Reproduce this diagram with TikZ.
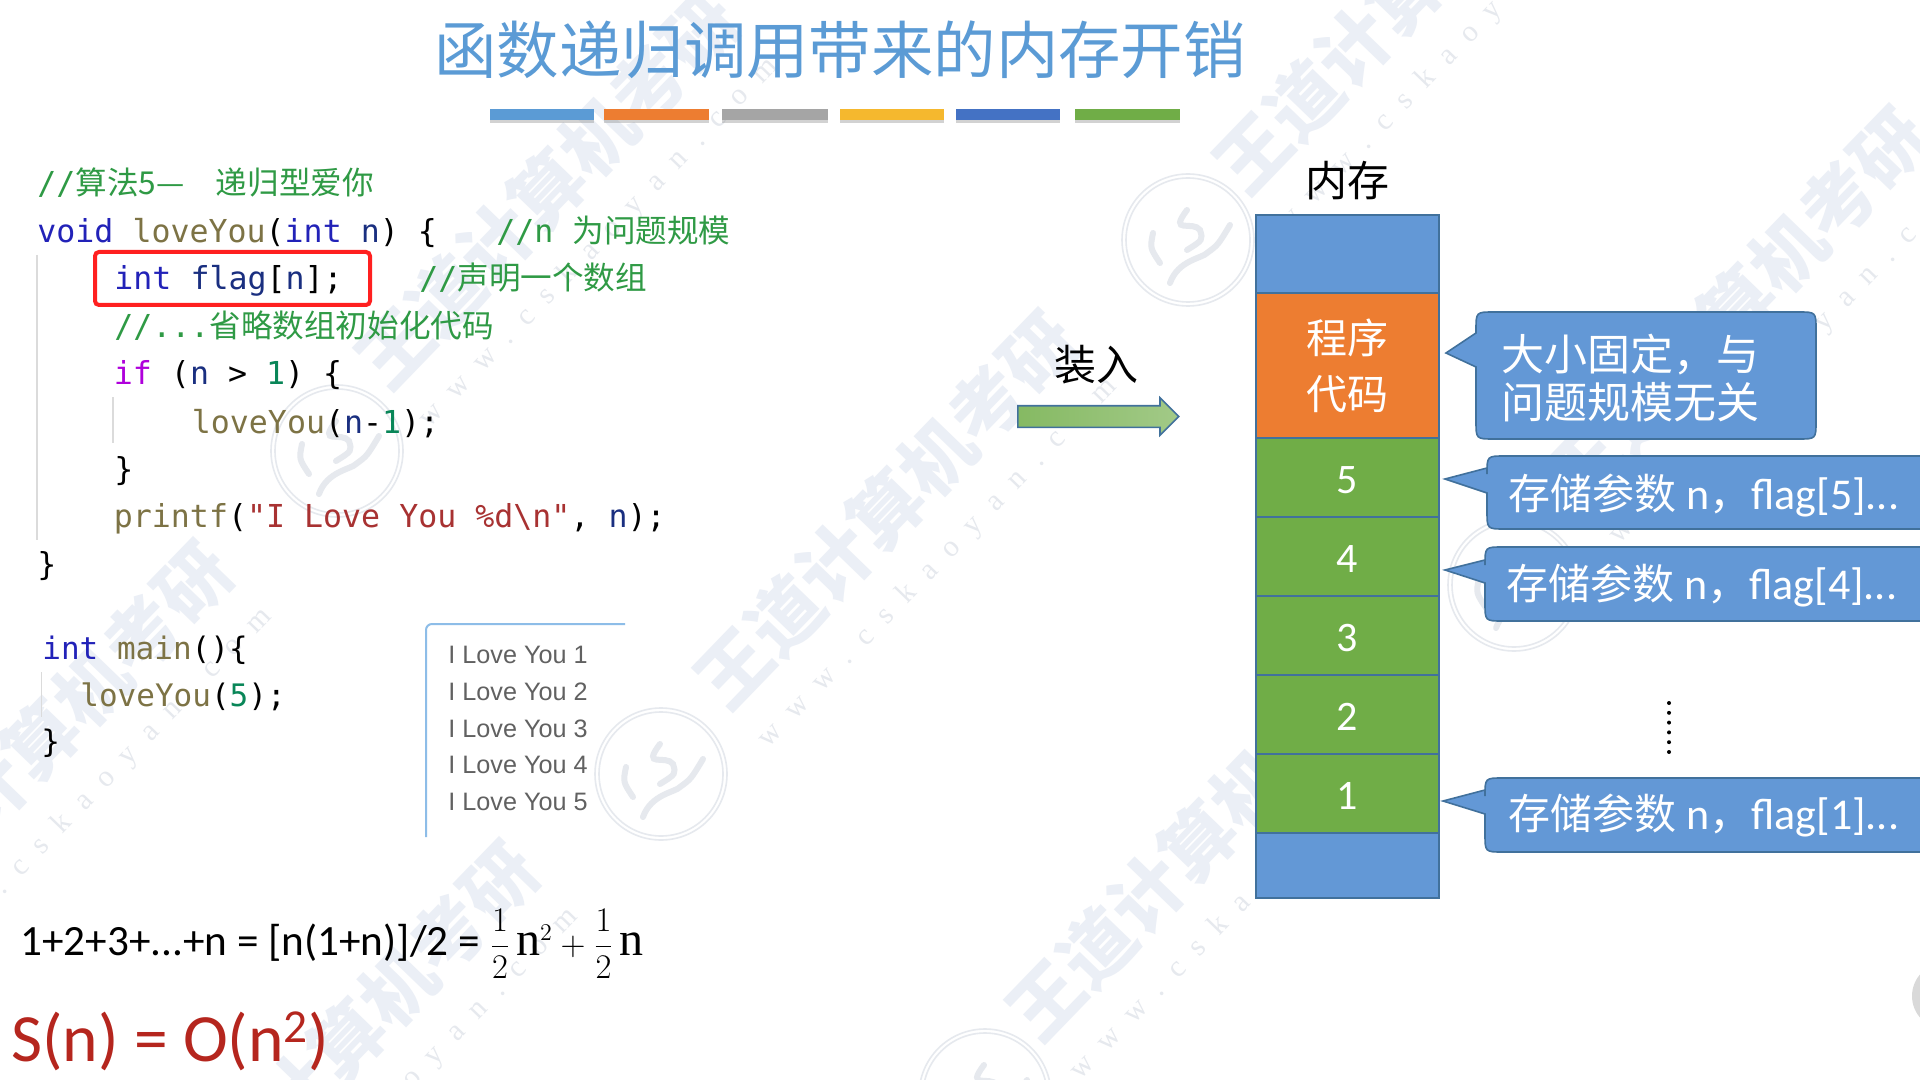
\documentclass[tikz,border=0pt]{standalone}
\usepackage{fontspec}
\setmainfont{Carlito}
\setsansfont{Liberation Sans}
\setmonofont{DejaVu Sans Mono}
\newfontfamily\cjk{Noto Sans CJK SC}
\newfontfamily\serifn{Liberation Serif}
\newfontfamily\urlfont[LetterSpace=58]{Liberation Serif}
\usetikzlibrary{calc,positioning,shapes.arrows,shadows}

\definecolor{titleblue}{HTML}{5B9BD5}
\definecolor{memblue}{HTML}{6398D6}
\definecolor{memorange}{HTML}{ED7D31}
\definecolor{memgreen}{HTML}{70AD47}
\definecolor{memedge}{HTML}{41719C}
\definecolor{bargray}{HTML}{A5A5A5}
\definecolor{baryellow}{HTML}{F5B82E}
\definecolor{bardark}{HTML}{4472C4}
\definecolor{kwblue}{HTML}{2222B8}
\definecolor{fnolive}{HTML}{7D7345}
\definecolor{cmtgreen}{HTML}{2F9A45}
\definecolor{ifpurple}{HTML}{AF00DB}
\definecolor{numteal}{HTML}{098658}
\definecolor{varblue}{HTML}{1A2F80}
\definecolor{strred}{HTML}{A83232}
\definecolor{marknavy}{HTML}{EBEFF6}
\definecolor{markgray}{HTML}{E6E9EE}
\definecolor{sumred}{HTML}{B5261E}
\definecolor{boxred}{HTML}{FF2020}
\definecolor{outblue}{HTML}{8DBDE8}

\newcommand{\kw}[1]{\textcolor{kwblue}{#1}}
\newcommand{\fn}[1]{\textcolor{fnolive}{#1}}
\newcommand{\cm}[1]{\textcolor{cmtgreen}{#1}}
\newcommand{\va}[1]{\textcolor{varblue}{#1}}
\newcommand{\nm}[1]{\textcolor{numteal}{#1}}
\newcommand{\st}[1]{\textcolor{strred}{#1}}
\newcommand{\argtext}[1]{{\fontsize{21}{24}\selectfont\cjk 存储参数} n{\fontsize{21}{24}\selectfont\cjk ，}flag[#1]...}
\newcommand{\bign}{\mbox{\fontsize{24}{25}\selectfont\serifn n}}

% body: left, right, top, bottom; pointer: tip x, tip y, upper y, lower y
\newcommand{\bubble}[8]{
  \draw [bubblefill] (#1,#8) -- (#1,{#4-18}) .. controls (#1,#4) .. ({#1+18},#4) -- ({#2-18},#4)
    .. controls (#2,#4) .. (#2,{#4-18}) -- (#2,{#3+18}) .. controls (#2,#3) .. ({#2-18},#3)
    -- ({#1+18},#3) .. controls (#1,#3) .. (#1,{#3+18}) -- (#1,#7) -- (#5,#6) -- cycle;
}

\tikzset{
  code/.style={anchor=base west, inner sep=0pt, font=\fontsize{15.8}{18}\selectfont\ttfamily},
  maincode/.style={code, font=\fontsize{15.5}{18}\selectfont\ttfamily},
  cell/.style={draw=memedge, line width=1.2pt, minimum width=91.5pt, inner sep=0pt, text=white},
  cellnum/.style={cell, fill=memgreen, minimum height=39.5pt, font=\fontsize{21}{24}\selectfont},
  bubblefill/.style={draw=memedge, line width=0.8pt, fill=memblue},
  bubbletext/.style={anchor=west, inner sep=0pt, text=white, font=\fontsize{22}{24}\selectfont},
  bigcjk/.style={inner sep=0pt, font=\fontsize{21}{24}\selectfont\cjk},
  outtext/.style={anchor=west, inner sep=0pt, text=black!62, font=\fontsize{12.6}{14}\selectfont\sffamily},
  colorbar/.style={minimum height=5.5pt, inner sep=0pt, drop shadow={shadow xshift=0pt, shadow yshift=-1.2pt, opacity=.35}},
  guide/.style={draw=black!14, line width=0.6pt},
  wmtext/.style={inner sep=0pt, rotate=46, text=marknavy, font=\fontsize{36.5}{40}\selectfont\cjk\bfseries},
  wmurl/.style={inner sep=0pt, rotate=46, text=markgray, font=\fontsize{15}{17}\selectfont\urlfont},
  sealline/.style={draw=markgray, line width=0.8pt},
  sealthick/.style={draw=markgray, line width=3pt, line cap=round},
  loadarrow/.style={single arrow, anchor=tail, draw=memedge, line width=0.8pt,
    left color=memgreen!85!white, right color=memgreen!65!white, single arrow head extend=4pt,
    minimum height=80.5pt, minimum width=16.5pt, inner ysep=5pt, inner xsep=0pt}
}

\begin{document}
\begin{tikzpicture}[x=0.5pt, y=-0.5pt]
\useasboundingbox (0,0) rectangle (1920,1080);
\clip (0,0) rectangle (1920,1080);
\fill [white] (0,0) rectangle (1920,1080);

%watermark
\foreach \i/\x/\y in {1/547/190, 2/886/510, 3/1405/-5, 4/1198/842, 5/1737/306, 6/347/1040, 7/41/740}{
  \node [wmtext] (wm\i) at (\x,\y) {王道计算机考研};
  \node [wmurl] (wmu\i) at ($(wm\i) + (52,53)$) {www.cskaoyan.com};
}
\foreach \x/\y in {1188/240, 337/451, 661/774, 1514/585, 985/1095}{
  \begin{scope}[shift={(\x,\y)}]
    \draw [sealline] (0,0) circle [radius=66];
    \draw [sealline] (0,0) circle [radius=62];
    \draw [sealthick] (-35,-7) .. controls (-38,8) .. (-28,23);
    \draw [sealthick] (-18,43) .. controls (-10,20) and (15,18) .. (19,13) .. controls (30,5) .. (42,-15);
    \draw [sealthick] (-1,-30) .. controls (-20,-5) and (5,-20) .. (12,-10) .. controls (15,0) .. (-1,10);
  \end{scope}
}
\fill [black!15] (1945,996) circle [radius=33];

%title
\node [inner sep=0pt, text=titleblue, font=\fontsize{31.2}{34}\selectfont\cjk] (title) at (840,50) {函数递归调用带来的内存开销};

\node [colorbar, fill=titleblue, minimum width=52pt] (bar1) at (542,115) {};
\node [colorbar, fill=memorange, minimum width=52.5pt] (bar2) at (656.5,115) {};
\node [colorbar, fill=bargray, minimum width=53pt] (bar3) at (775,115) {};
\node [colorbar, fill=baryellow, minimum width=52pt] (bar4) at (892,115) {};
\node [colorbar, fill=bardark, minimum width=52pt] (bar5) at (1008,115) {};
\node [colorbar, fill=memgreen, minimum width=52.5pt] (bar6) at (1127.5,115) {};

%code
\draw [guide] (37,255) to (37,540);
\draw [guide] (113,397) to (113,443);
\draw [guide] (41.5,672) to (41.5,717);

\node [code] (line0) at (37,195) {\cm{//{\cjk 算法5—\hspace{15.7pt}递归型爱你}}};
\node [code] (line1) at (37,242.5) {\kw{void} \fn{loveYou}(\kw{int} \va{n}) \{};
\node [code] (line1c) at (496,242.5) {\cm{//n {\cjk 为问题规模}}};
\node [code] (line2) at (114,290) {\kw{int} \va{flag}[\va{n}];};
\node [code] (line2c) at (419,290) {\cm{//{\cjk 声明一个数组}}};
\node [code] (line3) at (114,337) {\cm{//...{\cjk 省略数组初始化代码}}};
\node [code] (line4) at (113.5,385) {\textcolor{ifpurple}{if} (\va{n} > \nm{1}) \{};
\node [code] (line5) at (191.5,433) {\fn{loveYou}(\va{n}-\nm{1});};
\node [code] (line6) at (114,480) {\}};
\node [code] (line7) at (113.5,527) {\fn{printf}(\st{"I Love You \%d\textbackslash n"}, \va{n});};
\node [code] (line8) at (37,575) {\}};

\node [maincode] (main1) at (42,659) {\kw{int} \fn{main}()\{};
\node [maincode] (main2) at (80,706) {\fn{loveYou}(\nm{5});};
\node [maincode] (main3) at (41,752) {\}};

\node [draw=boxred, line width=2pt, rounded corners=2pt, minimum width=137.5pt, minimum height=26.5pt, inner sep=0pt] (flagbox) at (232.5,278.5) {};

%output window
\draw [outblue, line width=1pt, rounded corners=3pt] (426,837) -- (426,624) -- (625,624);
\foreach \n/\y in {1/655, 2/692, 3/729, 4/765, 5/802}{
  \node [outtext] (out\n) at (448,\y) {I Love You \n};
}

%sums
\node [anchor=base west, inner sep=0pt, font=\fontsize{21.6}{24}\selectfont] (sumline) at (20,955)
  {1+2+3+...+n = [n(1+n)]/2 = {\fontsize{18}{20}\selectfont$\displaystyle\frac{1}{2}\,\bign^{2}+\frac{1}{2}\,\bign$}};
\node [anchor=base west, inner sep=0pt, text=sumred, font=\fontsize{33.8}{36}\selectfont] (bigo) at (11,1061)
  {S(n) = O(n\textsuperscript{2})};

%loading arrow
\node [bigcjk] (loadlabel) at (1096,365) {装入};
\node [loadarrow] (load) at (1017,416.5) {};

%memory
\node [bigcjk] (memlabel) at (1347,181) {内存};
\node [cell, fill=memblue, minimum height=39pt] (memtop) at (1347.5,254) {};
\node [cell, fill=memorange, minimum height=72.5pt, align=center, font=\fontsize{20.5}{28}\selectfont\cjk] (memcode) at (1347.5,365.5) {程序\\代码};
\foreach \n/\y in {5/477.5, 4/556.5, 3/635.5, 2/714.5, 1/793.5}{
  \node [cellnum] (frame\n) at (1347.5,\y) {\raisebox{0pt}[16pt][0pt]{\n}};
}
\node [cell, fill=memblue, minimum height=32.5pt] (membot) at (1347.5,865.5) {};

%bubbles
\bubble{1476}{1816}{312}{439}{1446}{353}{333}{367}
\bubble{1487}{1935}{456}{529}{1445}{479}{468}{493}
\bubble{1485}{1935}{547}{621}{1445}{570}{560}{583}
\bubble{1485}{1935}{778}{852}{1443}{801}{790}{814}

\node [bubbletext, align=left, font=\fontsize{21.5}{24}\selectfont\cjk] (fixedtext) at (1501,378) {大小固定，与\\问题规模无关};
\node [bubbletext] (arg5) at (1508,495.5) {\argtext{5}};
\node [bubbletext] (arg4) at (1506,586) {\argtext{4}};
\node [bubbletext] (arg1) at (1508,816) {\argtext{1}};

\coordinate (dottop) at (1669,703);
\coordinate (dotbot) at (1669,753);
\draw [black, line width=2pt, line cap=round, dash pattern=on 0pt off 4.9pt] (dottop) to (dotbot);

\end{tikzpicture}
\end{document}
